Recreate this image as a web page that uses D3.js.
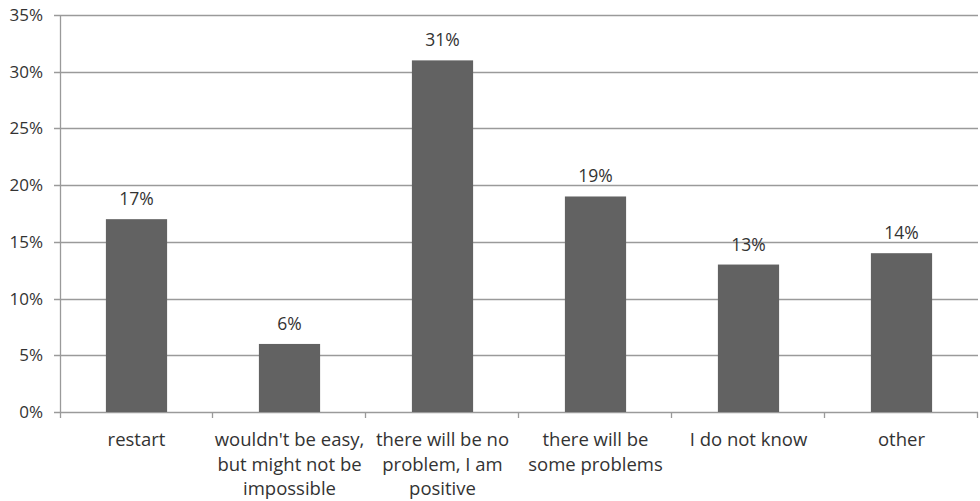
<!DOCTYPE html>
<html>
<head>
<meta charset="utf-8">
<script src="https://cdn.jsdelivr.net/npm/d3@7"></script>
<style>
  html, body { margin: 0; padding: 0; background: #fff; }
  svg { display: block; font-family: "Open Sans", "Noto Sans", sans-serif; }
</style>
</head>
<body>
<svg id="chart" width="980" height="501"></svg>
<script>
// Survey answers and their shares (percent)
const categories = [
  ["restart"],
  ["wouldn't be easy,", "but might not be", "impossible"],
  ["there will be no", "problem, I am", "positive"],
  ["there will be", "some problems"],
  ["I do not know"],
  ["other"]
];
const values = [17, 6, 31, 19, 13, 14];
const yTicks = [0, 5, 10, 15, 20, 25, 30, 35];

const svg = d3.select("#chart");
const margin = { left: 60, right: 2, top: 15, bottom: 89 };
const W = 980, H = 501;

const x = d3.scaleBand()
  .domain(d3.range(categories.length))
  .range([margin.left, W - margin.right])
  .paddingInner(0.6)
  .paddingOuter(0.3);

const y = d3.scaleLinear()
  .domain([0, 35])
  .range([H - margin.bottom, margin.top]);

const gridColor = "#9a9a9a";
const textColor = "#333";

// Horizontal gridlines with short ticks left of the axis
svg.append("g")
  .selectAll("line")
  .data(yTicks)
  .join("line")
  .attr("x1", margin.left - 6)
  .attr("x2", W - margin.right)
  .attr("y1", d => Math.round(y(d)) + 0.5)
  .attr("y2", d => Math.round(y(d)) + 0.5)
  .attr("stroke", gridColor)
  .attr("stroke-width", 1.3);

// Y tick labels
svg.append("g")
  .selectAll("text")
  .data(yTicks)
  .join("text")
  .attr("x", margin.left - 17)
  .attr("y", d => y(d))
  .attr("dy", "0.35em")
  .attr("text-anchor", "end")
  .attr("font-size", 17)
  .attr("fill", textColor)
  .text(d => d + "%");

// Vertical axis line
svg.append("line")
  .attr("x1", margin.left + 0.5).attr("x2", margin.left + 0.5)
  .attr("y1", y(35)).attr("y2", y(0) + 6)
  .attr("stroke", gridColor).attr("stroke-width", 1.3);

// Category boundary ticks below the baseline
const bounds = d3.range(1, categories.length + 1)
  .map(i => margin.left + i * (W - margin.left - margin.right) / categories.length);
svg.append("g")
  .selectAll("line")
  .data(bounds)
  .join("line")
  .attr("x1", d => Math.round(d) - 0.5)
  .attr("x2", d => Math.round(d) - 0.5)
  .attr("y1", y(0))
  .attr("y2", y(0) + 6)
  .attr("stroke", gridColor)
  .attr("stroke-width", 1.3);

// Bars
svg.append("g")
  .selectAll("rect")
  .data(values)
  .join("rect")
  .attr("x", (d, i) => x(i))
  .attr("width", x.bandwidth())
  .attr("y", d => y(d))
  .attr("height", d => y(0) - y(d))
  .attr("fill", "#626262");

// Value labels above bars
svg.append("g")
  .selectAll("text")
  .data(values)
  .join("text")
  .attr("x", (d, i) => x(i) + x.bandwidth() / 2)
  .attr("y", d => y(d) - 14)
  .attr("text-anchor", "middle")
  .attr("font-size", 17.5)
  .attr("fill", textColor)
  .text(d => d + "%");

// Category labels (multi-line)
const cat = svg.append("g")
  .selectAll("text")
  .data(categories)
  .join("text")
  .attr("x", (d, i) => x(i) + x.bandwidth() / 2)
  .attr("y", y(0) + 34)
  .attr("text-anchor", "middle")
  .attr("font-size", 18.5)
  .attr("fill", textColor);
cat.selectAll("tspan")
  .data(d => d)
  .join("tspan")
  .attr("x", function() { return this.parentNode.getAttribute("x"); })
  .attr("dy", (d, i) => i === 0 ? 0 : 24.5)
  .text(d => d);
</script>
</body>
</html>
